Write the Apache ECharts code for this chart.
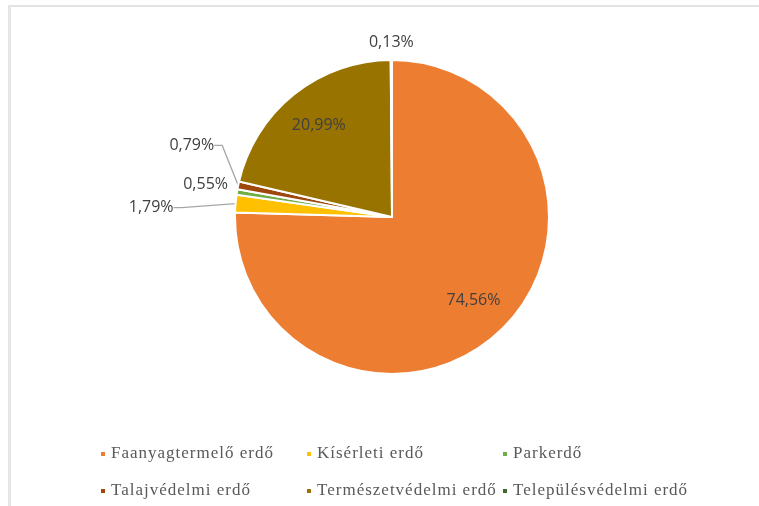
<!DOCTYPE html>
<html>
<head>
<meta charset="utf-8">
<title>Erdők rendeltetés szerint</title>
<script src="https://cdn.jsdelivr.net/npm/echarts@6/dist/echarts.min.js"></script>
<style>
  html, body { margin: 0; padding: 0; background: #ffffff; }
  #wrap { position: relative; width: 759px; height: 506px; overflow: hidden; }
  #chart { position: absolute; left: 0; top: 0; width: 759px; height: 506px; }
  #frame {
    position: absolute; left: 8px; top: 5px; right: -10px; bottom: -10px;
    border-top: 2px solid #e2e2e2; border-left: 3px solid #e6e6e6;
    pointer-events: none;
  }
</style>
</head>
<body>
<div id="wrap">
  <div id="chart"></div>
  <div id="frame"></div>
</div>
<script>
// Forest area by designated purpose, share in percent
const categories = [
  'Faanyagtermelő erdő',
  'Kísérleti erdő',
  'Parkerdő',
  'Talajvédelmi erdő',
  'Természetvédelmi erdő',
  'Településvédelmi erdő'
];
const shares = [74.56, 1.79, 0.55, 0.79, 20.99, 0.13];
const colors = ['#ED7D31', '#FFC000', '#70AD47', '#9E480E', '#997300', '#43682B'];

// Legend entries use a serif face with loose tracking: widen the letter
// spacing for serif text drawn on the canvas.
(function () {
  const proto = CanvasRenderingContext2D.prototype;
  const fillText = proto.fillText;
  proto.fillText = function (text, x, y, maxWidth) {
    if ('letterSpacing' in this && /Serif/.test(this.font)) {
      const prev = this.letterSpacing;
      this.letterSpacing = '1px';
      if (maxWidth === undefined) fillText.call(this, text, x, y);
      else fillText.call(this, text, x, y, maxWidth);
      this.letterSpacing = prev;
      return;
    }
    if (maxWidth === undefined) return fillText.call(this, text, x, y);
    return fillText.call(this, text, x, y, maxWidth);
  };
})();

// Pie geometry
const CX = 392, CY = 217, R = 157;

// Mid angle of every slice, clockwise from 12 o'clock (radians)
const total = shares.reduce((a, b) => a + b, 0);
const midAngles = [];
let acc = 0;
shares.forEach(v => {
  midAngles.push(2 * Math.PI * (acc + v / 2) / total);
  acc += v;
});

// Slices whose label sits on the slice itself
const insideLabels = new Set([0, 4]);
// Outside labels: shift of the label anchor from the slice edge, text alignment, leader line
const outsideLabels = {
  1: { shift: [-62, 4], align: 'right', line: true },
  2: { shift: [-9, -8], align: 'right', line: false },
  3: { shift: [-24, -40], align: 'right', line: true },
  5: { shift: [0, -18], align: 'center', line: false }
};

const fmt = v => v.toFixed(2).replace('.', ',') + '%';

const data = categories.map((name, i) => {
  const item = { name: name, value: shares[i], itemStyle: { color: colors[i] } };
  if (insideLabels.has(i)) {
    item.label = { position: 'inside' };
  } else {
    const o = outsideLabels[i];
    item.label = { position: 'outside' };
    item.labelLine = { show: o.line, length: 6, length2: 8 };
  }
  return item;
});

const legendFont = {
  fontFamily: '"Liberation Serif", "DejaVu Serif", serif',
  fontSize: 17,
  color: '#595959',
  lineHeight: 20
};
const legendColumns = [99, 305, 501];

const chart = echarts.init(document.getElementById('chart'), null, { renderer: 'canvas' });
chart.setOption({
  backgroundColor: '#ffffff',
  animation: false,
  legend: legendColumns.map((left, c) => ({
    type: 'plain',
    orient: 'vertical',
    left: left,
    top: 444,
    width: 220,
    height: 60,
    padding: 0,
    itemGap: 17,
    icon: 'rect',
    itemWidth: 6,
    itemHeight: 6,
    selectedMode: false,
    data: [categories[c], categories[c + 3]],
    textStyle: legendFont
  })),
  series: [{
    type: 'pie',
    center: [CX, CY],
    radius: R,
    startAngle: 90,
    clockwise: true,
    avoidLabelOverlap: false,
    silent: true,
    itemStyle: { borderColor: '#ffffff', borderWidth: 2 },
    label: {
      formatter: p => fmt(p.value),
      fontFamily: '"Open Sans", "Noto Sans", sans-serif',
      fontSize: 16,
      color: '#404040'
    },
    labelLine: {
      lineStyle: { color: '#a6a6a6', width: 1.3 }
    },
    labelLayout: function (p) {
      const i = p.dataIndex;
      const a = midAngles[i];
      const sx = Math.sin(a), cy = -Math.cos(a);
      if (insideLabels.has(i)) {
        return { x: CX + 0.745 * R * sx, y: CY + 0.745 * R * cy, align: 'center', verticalAlign: 'middle' };
      }
      const o = outsideLabels[i];
      return {
        x: CX + R * sx + o.shift[0],
        y: CY + R * cy + o.shift[1],
        align: o.align,
        verticalAlign: 'middle'
      };
    },
    data: data
  }]
});
</script>
</body>
</html>
